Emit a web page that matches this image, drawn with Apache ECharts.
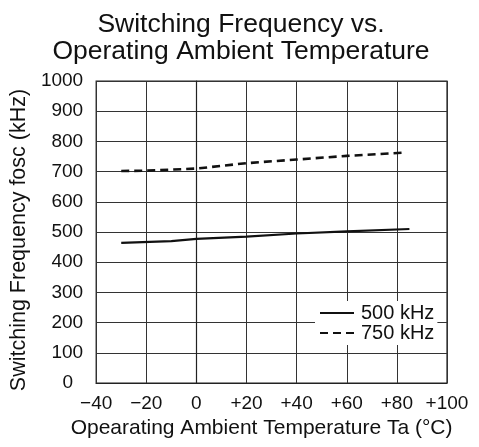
<!DOCTYPE html>
<html>
<head>
<meta charset="utf-8">
<script src="https://cdn.jsdelivr.net/npm/echarts@6/dist/echarts.min.js"></script>
<style>
html,body{margin:0;padding:0;background:#fff;}
#c{width:479px;height:447px;}
</style>
</head>
<body>
<div id="c"></div>
<script>
var titleLines = ['Switching Frequency vs.', 'Operating Ambient Temperature'];
var xName = 'Opearating Ambient Temperature Ta (\u00B0C)';
var yName = 'Switching Frequency fosc (kHz)';
var seriesNames = ['500 kHz', '750 kHz'];
var temps500 = [-30, -10, 0, 20, 40, 60, 85];
var freq500 = [464, 470, 477, 485, 495, 502, 510];
var temps750 = [-30, -20, 0, 20, 40, 60, 83];
var freq750 = [702, 703, 710, 728, 740, 752, 763];

function pairs(xs, ys) { return xs.map(function (x, i) { return [x, ys[i]]; }); }
var FONT = 'Liberation Sans, Arial, Helvetica, sans-serif';
var chart = echarts.init(document.getElementById('c'), null, {renderer: 'canvas'});
chart.setOption({
  animation: false,
  backgroundColor: '#fff',
  title: {
    text: titleLines.join('\n'),
    left: 236, top: 6, textAlign: 'center',
    textStyle: {fontFamily: FONT, fontSize: 26.5, fontWeight: 'normal', color: '#111', lineHeight: 27}
  },
  grid: {left: 96, right: 32, top: 81, bottom: 64, show: true, borderColor: '#222', borderWidth: 1.2, containLabel: false},
  legend: {
    left: 315, top: 301, orient: 'vertical', itemGap: 0, itemWidth: 34, itemHeight: 14,
    backgroundColor: '#fff', padding: [2, 3, 2, 4],
    itemStyle: {opacity: 0},
    textStyle: {fontFamily: FONT, fontSize: 20, color: '#111', lineHeight: 20, padding: [0, 0, 0, 2]},
    data: seriesNames
  },
  xAxis: {
    type: 'value', min: -40, max: 100, interval: 20,
    name: xName, nameLocation: 'middle', nameGap: 35,
    nameTextStyle: {fontFamily: FONT, fontSize: 21, color: '#111', padding: [0, 20, 0, 0]},
    axisLine: {show: true, lineStyle: {color: '#222', width: 1.2}},
    axisTick: {show: false},
    splitLine: {show: true, lineStyle: {color: '#333', width: 1}},
    axisLabel: {
      fontFamily: FONT, fontSize: 19, color: '#111', margin: 11,
      formatter: function (v) { return v < 0 ? '\u2212' + Math.abs(v) : (v > 0 ? '+' + v : '0'); }
    }
  },
  yAxis: {
    type: 'value', min: 0, max: 1000, interval: 100,
    name: yName, nameLocation: 'middle', nameGap: 60,
    nameTextStyle: {fontFamily: FONT, fontSize: 21.5, color: '#111', padding: [0, 0, 0, -16]},
    axisLine: {show: true, lineStyle: {color: '#222', width: 1.2}},
    axisTick: {show: false},
    splitLine: {show: true, lineStyle: {color: '#333', width: 1}},
    axisLabel: {
      fontFamily: FONT, fontSize: 19, color: '#111', margin: 13,
      formatter: function (v) { return v === 0 ? '{z|0}' : String(v); },
      rich: {z: {fontFamily: FONT, fontSize: 19, color: '#111', padding: [0, 10, 0, 0]}}
    }
  },
  series: [
    {
      name: seriesNames[0], type: 'line', symbol: 'none', data: pairs(temps500, freq500),
      lineStyle: {color: '#111', width: 2.2, type: 'solid'}, itemStyle: {color: '#111'}
    },
    {
      name: seriesNames[1], type: 'line', symbol: 'none', data: pairs(temps750, freq750),
      lineStyle: {color: '#111', width: 2.6, type: [8, 5]}, itemStyle: {color: '#111'}
    }
  ]
});
</script>
</body>
</html>
